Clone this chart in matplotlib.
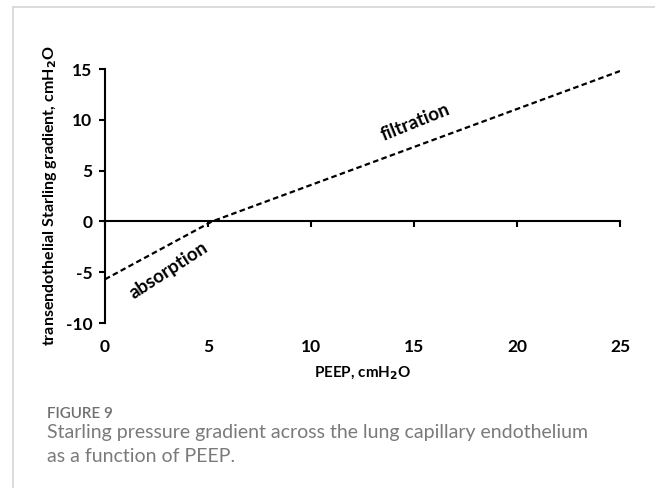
import matplotlib.pyplot as plt
from matplotlib.lines import Line2D

# data
peep = [0, 5.2, 25]
gradient = [-5.7, 0, 14.8]
x_ticks = [0, 5, 10, 15, 20, 25]
y_ticks = [-10, -5, 0, 5, 10, 15]

plt.rcParams['font.family'] = ['Lato', 'DejaVu Sans']
plt.rcParams['axes.unicode_minus'] = False

fig = plt.figure(figsize=(6.55, 4.88), dpi=100)
ax = fig.add_axes([0.1603, 0.3381, 0.7863, 0.5205])

ax.plot(peep, gradient, color='black', linewidth=1.6, linestyle=(0, (2.5, 1.5)))

ax.set_xlim(0, 25)
ax.set_ylim(-10, 15)
ax.set_xticks(x_ticks)
ax.set_yticks(y_ticks)

# spines: y at x=0, x axis crossing at y=0
for s in ['top', 'right']:
    ax.spines[s].set_visible(False)
ax.spines['bottom'].set_position(('data', 0))
ax.spines['left'].set_linewidth(1.5)
ax.spines['bottom'].set_linewidth(1.5)

ax.tick_params(axis='both', direction='out', length=4, width=1.5, labelsize=12.5)
ax.tick_params(axis='x', pad=81)
ax.tick_params(axis='y', pad=5)
for lab in ax.get_xticklabels() + ax.get_yticklabels():
    lab.set_fontweight('bold')

ax.set_ylabel('transendothelial Starling gradient, cmH$_\\mathbf{2}$O',
              fontsize=11.5, fontweight='bold', labelpad=5)
fig.text(0.554, 0.236, 'PEEP, cmH$_\\mathbf{2}$O', fontsize=11, fontweight='bold',
         ha='center', va='center')

ax.text(3.1, -4.8, 'absorption', rotation=33, fontsize=13.5, fontweight='bold',
        ha='center', va='center')
ax.text(15.05, 9.8, 'filtration', rotation=22, fontsize=13.5, fontweight='bold',
        ha='center', va='center')

# caption
fig.text(0.072, 0.152, 'FIGURE 9', fontsize=11, color='#6f6f6f', va='center', ha='left',
         fontweight='semibold')
fig.text(0.072, 0.113, 'Starling pressure gradient across the lung capillary endothelium',
         fontsize=14, color='#7a7a7a', va='center', ha='left')
fig.text(0.072, 0.064, 'as a function of PEEP.',
         fontsize=14, color='#7a7a7a', va='center', ha='left')

# light frame lines at top and left
fig.add_artist(Line2D([0.0205, 1.0], [0.986, 0.986], color='#d6d6d6', linewidth=1.2))
fig.add_artist(Line2D([0.0205, 0.0205], [0.0, 0.986], color='#d6d6d6', linewidth=1.2))

fig.savefig('out.png', dpi=100)
